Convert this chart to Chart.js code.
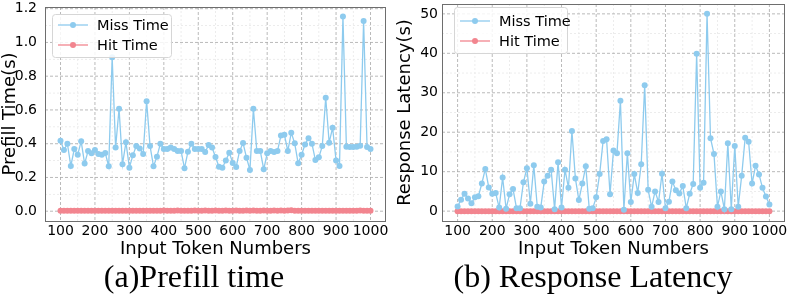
<!DOCTYPE html>
<html>
<head>
<meta charset="utf-8">
<script src="https://cdn.jsdelivr.net/npm/chart.js@4.4.0/dist/chart.umd.min.js"></script>
<style>
  body { margin: 0; background: #fff; width: 789px; height: 298px; position: relative; overflow: hidden; }
  .panel { position: absolute; top: 0; }
  .caption { position: absolute; top: 258px; font-family: 'Liberation Serif', 'Times New Roman', serif; font-size: 32px; color: #000; white-space: nowrap; transform: translateX(-50%); }
</style>
</head>
<body>
<div class="panel" style="left:0;width:395px;height:262px;"><canvas id="prefillChart"></canvas></div>
<div class="panel" style="left:395px;width:394px;height:262px;"><canvas id="latencyChart"></canvas></div>
<div class="caption" style="left:194px;">(a)Prefill time</div>
<div class="caption" style="left:593px;">(b) Response Latency</div>
<script>
// Số token đầu vào: 100 -> 1000, bước 10
const tokenNumbers = [100,110,120,130,140,150,160,170,180,190,200,210,220,230,240,250,260,270,280,290,
  300,310,320,330,340,350,360,370,380,390,400,410,420,430,440,450,460,470,480,490,
  500,510,520,530,540,550,560,570,580,590,600,610,620,630,640,650,660,670,680,690,
  700,710,720,730,740,750,760,770,780,790,800,810,820,830,840,850,860,870,880,890,
  900,910,920,930,940,950,960,970,980,990,1000];

// (a) Prefill time (s)
const prefillMiss = [0.418,0.363,0.400,0.268,0.368,0.335,0.414,0.282,0.357,0.343,
  0.363,0.339,0.335,0.345,0.266,0.912,0.378,0.607,0.278,0.408,
  0.258,0.331,0.386,0.372,0.339,0.652,0.386,0.266,0.323,0.400,
  0.368,0.368,0.378,0.368,0.357,0.357,0.254,0.353,0.400,0.368,
  0.368,0.368,0.351,0.392,0.378,0.321,0.264,0.258,0.300,0.347,
  0.286,0.262,0.357,0.404,0.317,0.244,0.607,0.357,0.357,0.248,
  0.343,0.357,0.351,0.357,0.449,0.453,0.357,0.465,0.402,0.284,
  0.335,0.396,0.433,0.400,0.303,0.319,0.386,0.672,0.406,0.495,
  0.301,0.268,1.153,0.382,0.380,0.380,0.382,0.388,1.127,0.380,
  0.368,0.374];
const prefillHit = [0.002,0.002,0.003,0.002,0.003,0.002,0.002,0.003,0.002,0.002,
  0.003,0.002,0.002,0.003,0.002,0.003,0.002,0.002,0.003,0.002,
  0.003,0.002,0.002,0.003,0.002,0.003,0.002,0.003,0.003,0.002,
  0.004,0.003,0.002,0.003,0.004,0.003,0.002,0.003,0.003,0.004,
  0.003,0.003,0.004,0.003,0.003,0.004,0.003,0.003,0.004,0.003,
  0.003,0.004,0.003,0.003,0.004,0.003,0.004,0.003,0.003,0.004,
  0.003,0.003,0.004,0.003,0.004,0.003,0.004,0.005,0.003,0.003,
  0.003,0.002,0.003,0.003,0.002,0.003,0.003,0.002,0.003,0.003,
  0.002,0.003,0.003,0.002,0.003,0.003,0.003,0.004,0.003,0.003,
  0.003,0.003];

// (b) Response Latency (s)
const latencyMiss = [1.2,2.9,4.4,3.2,2.0,3.5,3.8,7.0,10.7,6.0,
  4.4,4.6,0.9,8.5,0.6,4.3,5.6,0.75,0.7,7.3,
  10.9,1.9,11.6,1.1,0.9,7.5,9.0,10.5,0.5,12.4,
  0.9,10.5,5.9,20.3,8.3,2.8,7.0,11.4,0.6,0.7,
  3.5,9.4,17.8,18.2,4.3,15.4,14.7,28.0,0.35,14.7,
  2.3,9.4,4.6,11.9,31.9,5.4,1.1,5.0,2.3,9.5,
  0.7,2.4,7.5,5.3,4.5,6.4,0.75,4.4,6.9,39.9,
  5.9,7.2,50.0,18.5,14.5,1.1,5.0,0.5,17.2,0.5,
  16.5,1.1,9.0,18.6,17.6,7.0,11.5,9.3,5.9,3.7,
  1.7];
const latencyHit = [0,0,0,0,0,0,0,0,0,0, 0,0,0,0,0,0,0,0,0,0,
  0,0,0,0,0,0,0,0,0,0, 0,0,0,0,0,0,0,0,0,0,
  0,0,0,0,0,0,0,0,0,0, 0,0,0,0,0,0,0,0,0,0,
  0,0,0,0,0,0,0,0,0,0, 0,0,0,0,0,0,0,0,0,0,
  0,0,0,0,0,0,0,0,0,0, 0];

const seriesLabels = ['Miss Time', 'Hit Time'];
const missColor = '#8ecbee';
const hitColor = '#f2858f';
const FONT = "'DejaVu Sans', sans-serif";

function toPoints(values) {
    return tokenNumbers.map((x, i) => ({ x: x, y: values[i] }));
}

function makeDataset(label, values, color) {
    return {
        label: label,
        data: toPoints(values),
        borderColor: color,
        backgroundColor: color,
        borderWidth: 1.3,
        pointRadius: 3,
        pointBorderWidth: 0,
        pointBackgroundColor: color,
        tension: 0
    };
}

// Vẽ lưới chính/phụ kiểu matplotlib và khung viền
const gridPlugin = {
    id: 'mplGrid',
    beforeDatasetsDraw(chart, args, opts) {
        const { ctx, chartArea: a, scales } = chart;
        ctx.save();
        ctx.lineWidth = 0.8;
        scales.x.ticks.forEach(t => {
            const major = t.value % opts.xMajor === 0;
            const px = scales.x.getPixelForValue(t.value);
            ctx.strokeStyle = major ? '#a8a8a8' : '#e8e8e8';
            ctx.setLineDash(major ? [3, 2] : [2, 2]);
            ctx.beginPath(); ctx.moveTo(px, a.top); ctx.lineTo(px, a.bottom); ctx.stroke();
        });
        scales.y.ticks.forEach(t => {
            const major = Math.abs(t.value / opts.yMajor - Math.round(t.value / opts.yMajor)) < 1e-6;
            const py = scales.y.getPixelForValue(t.value);
            ctx.strokeStyle = major ? '#a8a8a8' : '#e8e8e8';
            ctx.setLineDash(major ? [3, 2] : [2, 2]);
            ctx.beginPath(); ctx.moveTo(a.left, py); ctx.lineTo(a.right, py); ctx.stroke();
        });
        ctx.restore();
    },
    afterDraw(chart) {
        const { ctx, chartArea: a } = chart;
        ctx.save();
        ctx.strokeStyle = '#6e6e6e';
        ctx.lineWidth = 1;
        ctx.strokeRect(a.left + 0.5, a.top + 0.5, a.right - a.left - 1, a.bottom - a.top);
        ctx.restore();
    }
};

// Chú thích đặt bên trong vùng biểu đồ (góc trên bên trái)
const innerLegend = {
    id: 'innerLegend',
    afterDraw(chart, args, opts) {
        const { ctx } = chart;
        const b = opts.box;
        ctx.save();
        ctx.fillStyle = 'rgba(255,255,255,0.85)';
        ctx.strokeStyle = '#d6d6d6';
        ctx.lineWidth = 1;
        ctx.beginPath();
        ctx.roundRect(b.x + 0.5, b.y + 0.5, b.w, b.h, 3);
        ctx.fill(); ctx.stroke();
        ctx.font = '14.5px ' + FONT;
        ctx.textBaseline = 'middle';
        chart.data.datasets.forEach((ds, i) => {
            const cy = b.y + opts.rows[i];
            ctx.strokeStyle = ds.borderColor;
            ctx.lineWidth = 1.3;
            ctx.beginPath(); ctx.moveTo(b.x + 6, cy); ctx.lineTo(b.x + 36, cy); ctx.stroke();
            ctx.fillStyle = ds.borderColor;
            ctx.beginPath(); ctx.arc(b.x + 21, cy, 3, 0, Math.PI * 2); ctx.fill();
            ctx.fillStyle = '#000';
            ctx.fillText(ds.label, b.x + 45, cy + 1);
        });
        ctx.restore();
    }
};

function buildChart(canvasId, cfg) {
    const ctx = document.getElementById(canvasId).getContext('2d');
    return new Chart(ctx, {
        type: 'line',
        data: {
            datasets: [
                makeDataset(seriesLabels[0], cfg.miss, missColor),
                makeDataset(seriesLabels[1], cfg.hit, hitColor)
            ]
        },
        options: {
            responsive: true,
            maintainAspectRatio: false,
            animation: false,
            layout: { padding: { left: 0, top: cfg.area.top, right: cfg.area.right, bottom: 0 } },
            plugins: {
                legend: { display: false },
                tooltip: { enabled: false },
                mplGrid: { xMajor: 100, yMajor: cfg.yMajor },
                innerLegend: { box: cfg.legendBox, rows: cfg.legendRows }
            },
            scales: {
                x: {
                    type: 'linear',
                    min: 55,
                    max: 1045,
                    afterBuildTicks(scale) {
                        const t = [];
                        for (let v = 100; v <= 1000; v += 50) t.push({ value: v });
                        scale.ticks = t;
                    },
                    afterFit(scale) {
                        scale.height = cfg.xHeight;
                        scale.paddingLeft = 0;
                        scale.paddingRight = 0;
                    },
                    grid: { display: false, drawTicks: false },
                    border: { display: false },
                    ticks: {
                        autoSkip: false,
                        maxRotation: 0,
                        padding: 2,
                        color: '#000',
                        font: { family: FONT, size: 14 },
                        callback: v => (v % 100 === 0 ? String(v) : '')
                    },
                    title: {
                        display: true,
                        text: 'Input Token Numbers',
                        color: '#000',
                        font: { family: FONT, size: 18 },
                        padding: { top: 0, bottom: 2 }
                    }
                },
                y: {
                    type: 'linear',
                    min: cfg.yMin,
                    max: cfg.yMax,
                    afterBuildTicks(scale) {
                        scale.ticks = cfg.yTicks.map(v => ({ value: v }));
                    },
                    afterFit(scale) {
                        scale.width = cfg.yWidth;
                        scale.paddingTop = 0;
                        scale.paddingBottom = 0;
                    },
                    grid: { display: false, drawTicks: false },
                    border: { display: false },
                    ticks: {
                        autoSkip: false,
                        padding: cfg.yPad,
                        color: '#000',
                        font: { family: FONT, size: 14 },
                        callback: cfg.yLabel
                    },
                    title: {
                        display: true,
                        text: cfg.yTitle,
                        color: '#000',
                        font: { family: FONT, size: 18 },
                        padding: { top: 0, bottom: 0 }
                    }
                }
            }
        },
        plugins: [gridPlugin, innerLegend]
    });
}

const prefillYTicks = [0, 0.1, 0.2, 0.3, 0.4, 0.5, 0.6, 0.7, 0.8, 0.9, 1.0, 1.1, 1.2];
const latencyYTicks = [0, 5, 10, 15, 20, 25, 30, 35, 40, 45, 50];

buildChart('prefillChart', {
    miss: prefillMiss,
    hit: prefillHit,
    yMin: -0.058,
    yMax: 1.21,
    yMajor: 0.2,
    yTicks: prefillYTicks,
    yTitle: 'Prefill Time(s)',
    yLabel: v => (Math.abs(v * 5 - Math.round(v * 5)) < 1e-6 ? v.toFixed(1) : ''),
    yWidth: 45,
    yPad: 8,
    xHeight: 41,
    area: { top: 7, right: 9 },
    legendBox: { x: 52, y: 14, w: 119, h: 43 },
    legendRows: [11, 31]
});

buildChart('latencyChart', {
    miss: latencyMiss,
    hit: latencyHit,
    yMin: -2.5,
    yMax: 52.5,
    yMajor: 10,
    yTicks: latencyYTicks,
    yTitle: 'Response Latency(s)',
    yLabel: v => (v % 10 === 0 ? String(v) : ''),
    yWidth: 47,
    yPad: 4,
    xHeight: 41,
    area: { top: 3, right: 4 },
    legendBox: { x: 59, y: 7, w: 113, h: 46 },
    legendRows: [14, 34]
});
</script>
</body>
</html>
